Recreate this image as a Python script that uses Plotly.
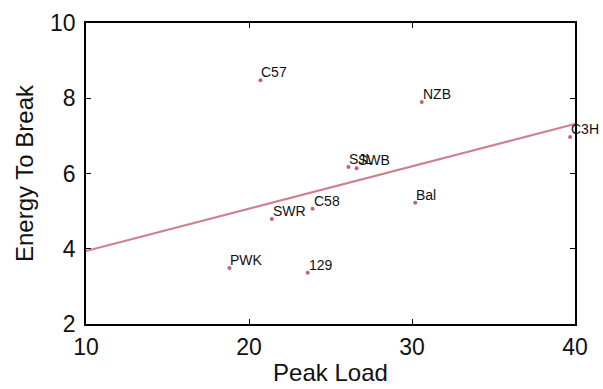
import numpy as np
import plotly.graph_objects as go

# Mouse strains: peak load vs energy to break
strains = ["C57", "NZB", "C3H", "SJL", "SWB", "C58", "SWR", "Bal", "PWK", "129"]
peak_load = [20.7, 30.6, 39.7, 26.1, 26.6, 23.9, 21.4, 30.2, 18.8, 23.6]
energy_to_break = [8.48, 7.90, 6.97, 6.17, 6.14, 5.06, 4.79, 5.22, 3.49, 3.36]

x_ticks = [10, 20, 30, 40]
y_ticks = [2, 4, 6, 8, 10]

# least-squares fit across the plotted range
slope, intercept = np.polyfit(peak_load, energy_to_break, 1)
fit_x = np.array([10, 40])
fit_y = slope * fit_x + intercept

FONT = "Liberation Sans, Arial, Helvetica, sans-serif"
LINE_COLOR = "rgb(206,128,140)"
DOT_COLOR = "rgb(196,96,124)"

fig = go.Figure()
fig.add_trace(go.Scatter(
    x=fit_x, y=fit_y, mode="lines",
    line=dict(color=LINE_COLOR, width=2),
    hoverinfo="skip", showlegend=False,
))
fig.add_trace(go.Scatter(
    x=peak_load, y=energy_to_break, mode="markers",
    marker=dict(color=DOT_COLOR, size=4),
    text=strains, showlegend=False,
))

for name, px, py in zip(strains, peak_load, energy_to_break):
    fig.add_annotation(
        x=px, y=py, text=name, showarrow=False,
        xanchor="left", yanchor="bottom", xshift=0, yshift=-1,
        font=dict(family=FONT, size=14, color="#111111"),
        borderpad=0,
    )

axis_common = dict(
    showline=True, linecolor="black", linewidth=1.5, mirror="ticks",
    ticks="inside", ticklen=5, tickwidth=1.2, tickcolor="black",
    showgrid=False, zeroline=False,
    tickfont=dict(family=FONT, size=23, color="#111111"),
)

fig.update_layout(
    width=603, height=389,
    margin=dict(l=86, r=28, t=23, b=65, autoexpand=False),
    paper_bgcolor="white", plot_bgcolor="white",
    font=dict(family=FONT, color="#111111"),
    xaxis=dict(
        range=[10, 40], tickvals=x_ticks,
        title=dict(text="Peak Load", font=dict(family=FONT, size=24), standoff=5),
        ticklabelstandoff=2,
        **axis_common,
    ),
    yaxis=dict(
        range=[2, 10], tickvals=y_ticks,
        title=dict(text="Energy To Break", font=dict(family=FONT, size=24), standoff=10),
        ticklabelstandoff=4,
        **axis_common,
    ),
)

fig.write_html("out.html")
